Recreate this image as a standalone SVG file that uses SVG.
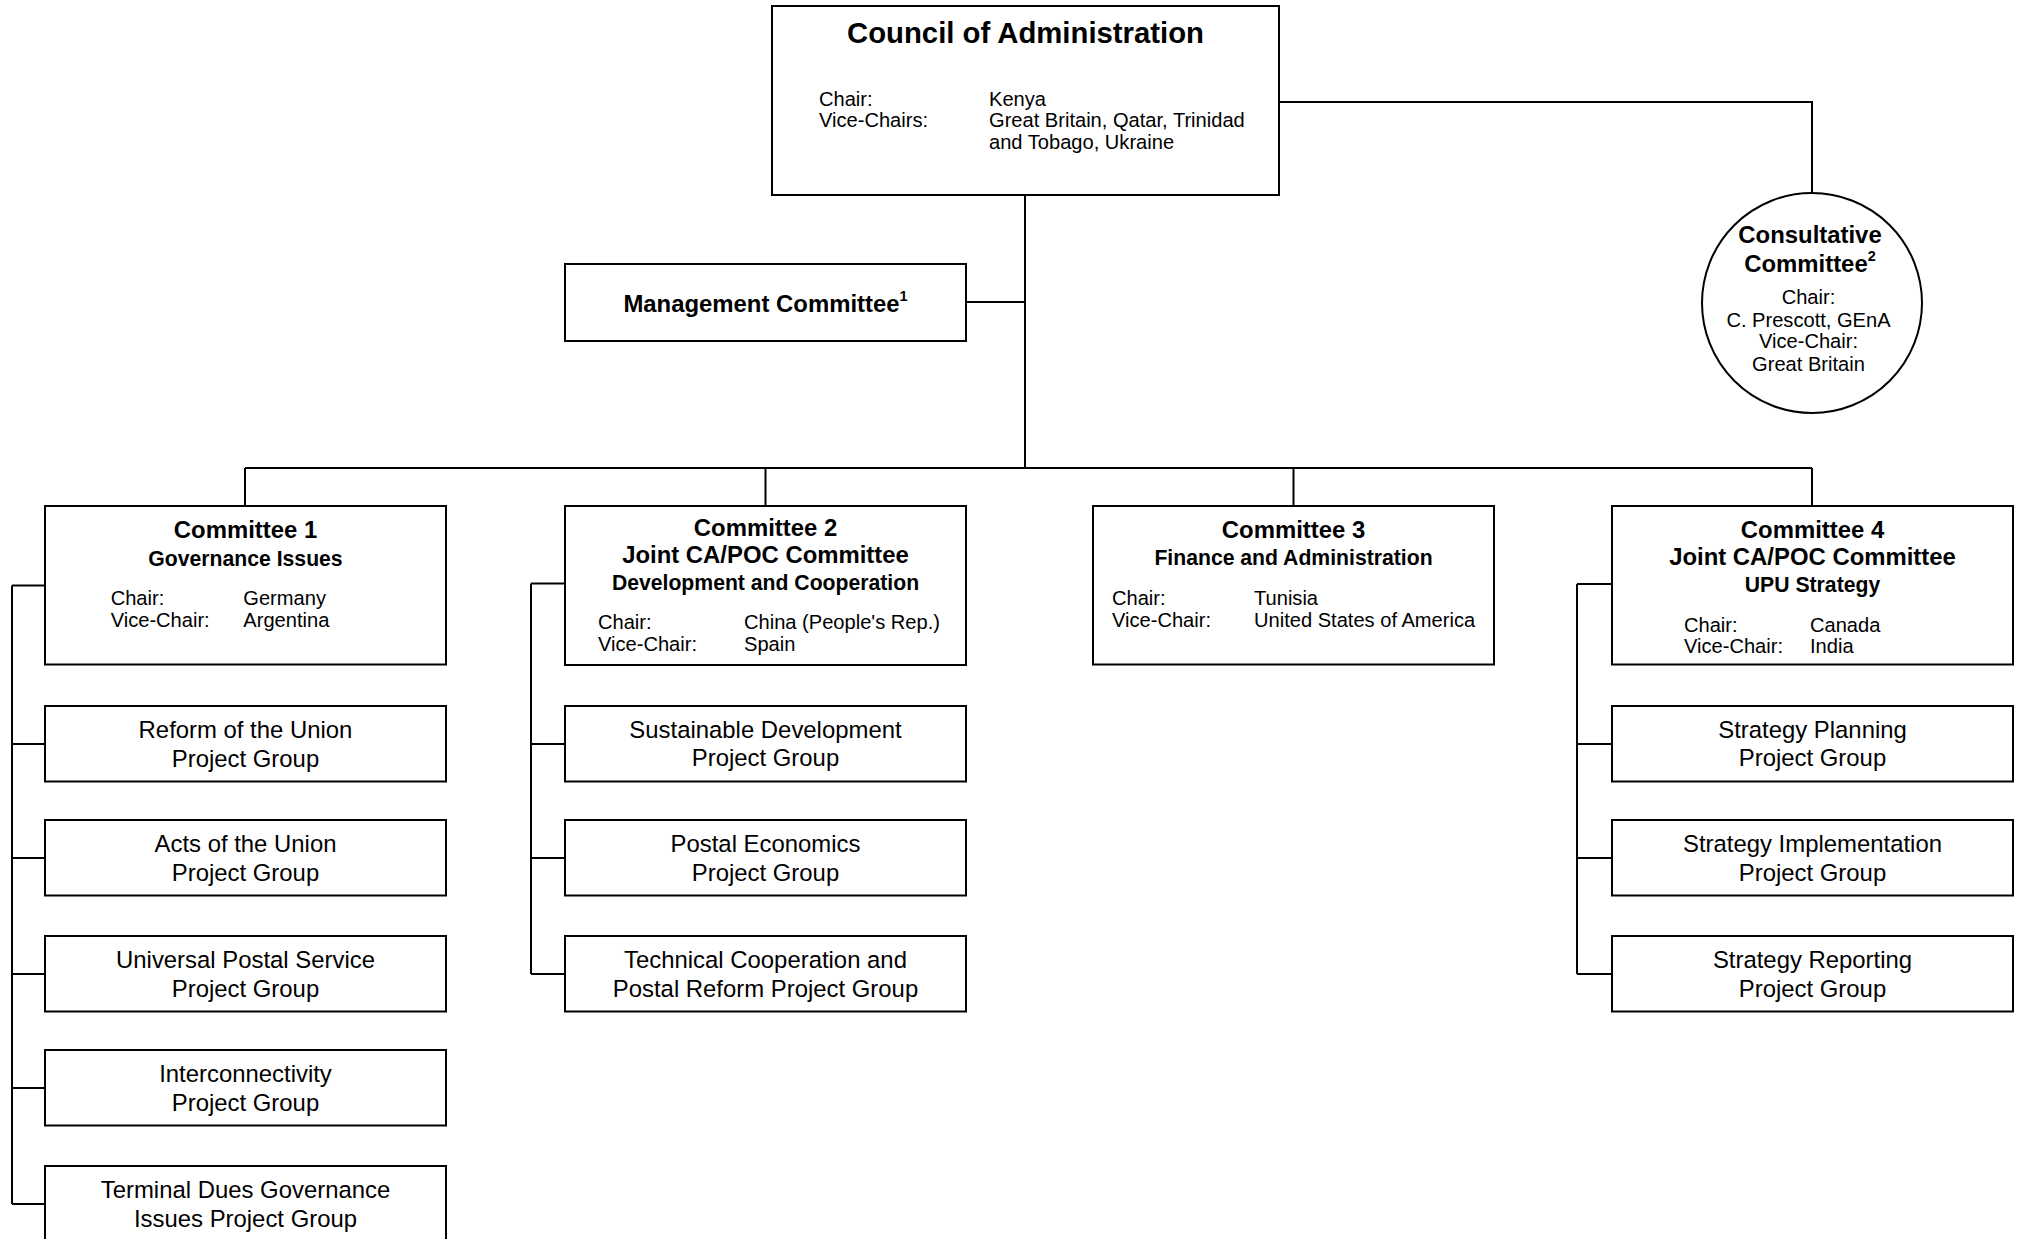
<svg xmlns="http://www.w3.org/2000/svg" width="2017" height="1239" viewBox="0 0 2017 1239">
<style>
rect, circle { fill: #fff; stroke: #000; stroke-width: 2; }
.c line, .c polyline { stroke: #000; stroke-width: 2; fill: none; }
text { font-family: "Liberation Sans", Arial, Helvetica, sans-serif; fill: #000; }
.t0 { font-size: 29.3px; font-weight: bold; text-anchor: middle; }
.t1 { font-size: 23.9px; font-weight: bold; text-anchor: middle; }
.t2 { font-size: 21.2px; font-weight: bold; text-anchor: middle; }
.s { font-size: 20.1px; }
.sm { font-size: 20.1px; text-anchor: middle; }
.p { font-size: 23.9px; text-anchor: middle; }
.sup { font-size: 14.5px; font-weight: bold; }
</style>
<rect x="0" y="0" width="2017" height="1239" style="fill:#fff;stroke:none"/>
<g class="c" id="connectors">
  <line x1="1025" y1="195" x2="1025" y2="468"/>
  <line x1="966" y1="302" x2="1025" y2="302"/>
  <polyline points="1279,102 1812,102 1812,193"/>
  <line x1="245" y1="468" x2="1812" y2="468"/>
  <line x1="245" y1="468" x2="245" y2="506"/>
  <line x1="765.5" y1="468" x2="765.5" y2="506"/>
  <line x1="1293.5" y1="468" x2="1293.5" y2="506"/>
  <line x1="1812" y1="468" x2="1812" y2="506"/>
  <line x1="12" y1="585.5" x2="12" y2="1204"/>
  <line x1="12" y1="585.5" x2="45" y2="585.5"/>
  <line x1="12" y1="744" x2="45" y2="744"/>
  <line x1="12" y1="858" x2="45" y2="858"/>
  <line x1="12" y1="974" x2="45" y2="974"/>
  <line x1="12" y1="1088" x2="45" y2="1088"/>
  <line x1="12" y1="1204" x2="45" y2="1204"/>
  <line x1="531" y1="583.5" x2="531" y2="974"/>
  <line x1="531" y1="583.5" x2="565" y2="583.5"/>
  <line x1="531" y1="744" x2="565" y2="744"/>
  <line x1="531" y1="858" x2="565" y2="858"/>
  <line x1="531" y1="974" x2="565" y2="974"/>
  <line x1="1577" y1="584" x2="1577" y2="974"/>
  <line x1="1577" y1="584" x2="1612" y2="584"/>
  <line x1="1577" y1="744" x2="1612" y2="744"/>
  <line x1="1577" y1="858" x2="1612" y2="858"/>
  <line x1="1577" y1="974" x2="1612" y2="974"/>
</g>
<g id="council">
  <rect x="772" y="6" width="507" height="189"/>
  <text class="t0" x="1025.5" y="42.5">Council of Administration</text>
  <text class="s" x="819" y="106">Chair:</text>
  <text class="s" x="819" y="127.3">Vice-Chairs:</text>
  <text class="s" x="989" y="106">Kenya</text>
  <text class="s" x="989" y="127.3">Great Britain, Qatar, Trinidad</text>
  <text class="s" x="989" y="148.5">and Tobago, Ukraine</text>
</g>
<g id="management">
  <rect x="565" y="264" width="401" height="77"/>
  <text class="t1" x="765.5" y="311.7">Management Committee<tspan class="sup" dy="-10.5">1</tspan></text>
</g>
<g id="consultative">
  <circle cx="1812" cy="303" r="110"/>
  <text class="t1" x="1810" y="242.7">Consultative</text>
  <text class="t1" x="1810" y="271.7">Committee<tspan class="sup" dy="-10.5">2</tspan></text>
  <text class="sm" x="1808.5" y="304">Chair:</text>
  <text class="sm" x="1808.5" y="326.7">C. Prescott, GEnA</text>
  <text class="sm" x="1808.5" y="348.3">Vice-Chair:</text>
  <text class="sm" x="1808.5" y="370.7">Great Britain</text>
</g>
<g id="committee1">
  <rect x="45" y="506" width="401" height="158.5"/>
  <text class="t1" x="245.5" y="537.7">Committee 1</text>
  <text class="t2" x="245.5" y="566">Governance Issues</text>
  <text class="s" x="110.7" y="605">Chair:</text>
  <text class="s" x="110.7" y="626.7">Vice-Chair:</text>
  <text class="s" x="243.3" y="605">Germany</text>
  <text class="s" x="243.3" y="626.7">Argentina</text>
</g>
<g id="committee2">
  <rect x="565" y="506" width="401" height="159"/>
  <text class="t1" x="765.5" y="535.5">Committee 2</text>
  <text class="t1" x="765.5" y="563">Joint CA/POC Committee</text>
  <text class="t2" x="765.5" y="589.5">Development and Cooperation</text>
  <text class="s" x="598" y="629">Chair:</text>
  <text class="s" x="598" y="650.7">Vice-Chair:</text>
  <text class="s" x="744" y="629">China (People's Rep.)</text>
  <text class="s" x="744" y="650.7">Spain</text>
</g>
<g id="committee3">
  <rect x="1093" y="506" width="401" height="158.5"/>
  <text class="t1" x="1293.5" y="538.3">Committee 3</text>
  <text class="t2" x="1293.5" y="565">Finance and Administration</text>
  <text class="s" x="1112" y="605">Chair:</text>
  <text class="s" x="1112" y="626.7">Vice-Chair:</text>
  <text class="s" x="1254" y="605">Tunisia</text>
  <text class="s" x="1254" y="626.7">United States of America</text>
</g>
<g id="committee4">
  <rect x="1612" y="506" width="401" height="158.5"/>
  <text class="t1" x="1812.5" y="537.5">Committee 4</text>
  <text class="t1" x="1812.5" y="565">Joint CA/POC Committee</text>
  <text class="t2" x="1812.5" y="591.7">UPU Strategy</text>
  <text class="s" x="1684" y="631.7">Chair:</text>
  <text class="s" x="1684" y="653.3">Vice-Chair:</text>
  <text class="s" x="1810" y="631.7">Canada</text>
  <text class="s" x="1810" y="653.3">India</text>
</g>
<g id="reform">
  <rect x="45" y="706" width="401" height="75.5"/>
  <text class="p" x="245.5" y="738">Reform of the Union</text>
  <text class="p" x="245.5" y="766.7">Project Group</text>
</g>
<g id="acts">
  <rect x="45" y="820" width="401" height="75.5"/>
  <text class="p" x="245.5" y="852.3">Acts of the Union</text>
  <text class="p" x="245.5" y="881">Project Group</text>
</g>
<g id="universal">
  <rect x="45" y="936" width="401" height="75.5"/>
  <text class="p" x="245.5" y="968.3">Universal Postal Service</text>
  <text class="p" x="245.5" y="997">Project Group</text>
</g>
<g id="interconnectivity">
  <rect x="45" y="1050" width="401" height="75.5"/>
  <text class="p" x="245.5" y="1082.3">Interconnectivity</text>
  <text class="p" x="245.5" y="1111">Project Group</text>
</g>
<g id="terminal">
  <rect x="45" y="1166" width="401" height="80"/>
  <text class="p" x="245.5" y="1197.7">Terminal Dues Governance</text>
  <text class="p" x="245.5" y="1226.7">Issues Project Group</text>
</g>
<g id="sustainable">
  <rect x="565" y="706" width="401" height="75.5"/>
  <text class="p" x="765.5" y="737.5">Sustainable Development</text>
  <text class="p" x="765.5" y="766.3">Project Group</text>
</g>
<g id="economics">
  <rect x="565" y="820" width="401" height="75.5"/>
  <text class="p" x="765.5" y="852">Postal Economics</text>
  <text class="p" x="765.5" y="880.7">Project Group</text>
</g>
<g id="technical">
  <rect x="565" y="936" width="401" height="75.5"/>
  <text class="p" x="765.5" y="968">Technical Cooperation and</text>
  <text class="p" x="765.5" y="996.7">Postal Reform Project Group</text>
</g>
<g id="planning">
  <rect x="1612" y="706" width="401" height="75.5"/>
  <text class="p" x="1812.5" y="737.5">Strategy Planning</text>
  <text class="p" x="1812.5" y="766">Project Group</text>
</g>
<g id="implementation">
  <rect x="1612" y="820" width="401" height="75.5"/>
  <text class="p" x="1812.5" y="852">Strategy Implementation</text>
  <text class="p" x="1812.5" y="880.7">Project Group</text>
</g>
<g id="reporting">
  <rect x="1612" y="936" width="401" height="75.5"/>
  <text class="p" x="1812.5" y="968">Strategy Reporting</text>
  <text class="p" x="1812.5" y="996.7">Project Group</text>
</g>
</svg>
